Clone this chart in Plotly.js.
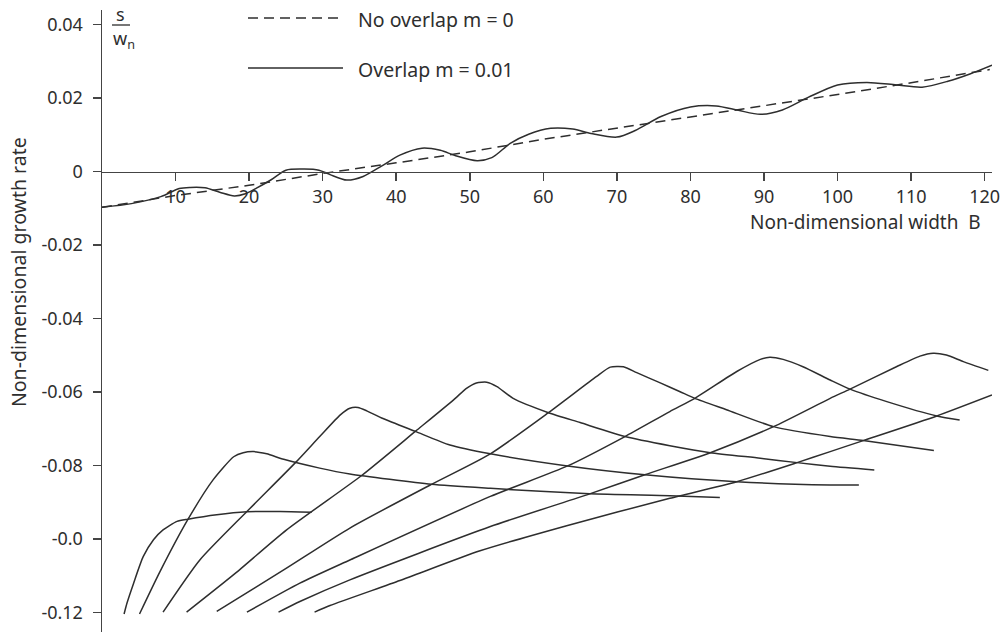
<!DOCTYPE html>
<html>
<head>
<meta charset="utf-8">
<script src="https://cdn.plot.ly/plotly-3.0.1.min.js"></script>
<style>html,body{margin:0;padding:0;background:#fff;}#chart{width:1003px;height:632px;}</style>
</head>
<body>
<div id="chart"></div>
<script>
// ---- Data ----
const noOverlapB = [0, 10, 20, 30, 40, 50, 60, 70, 80, 90, 100, 110, 120.7];
const noOverlapG = [-0.0097, -0.0065, -0.0037, -0.0005, 0.0024, 0.0054, 0.0088, 0.0118, 0.0150, 0.0180, 0.0210, 0.0242, 0.0278];

const overlapB = [0, 4, 8, 10.5, 12, 14, 16, 18, 19.5, 21, 23, 25, 27.5, 29.5, 31, 33.3, 35.5, 38, 40.5, 43.5, 46, 48, 51, 53, 55.5, 58, 61, 64, 66.5, 70, 72.5, 76, 80, 83.5, 86.5, 89.5, 92.5, 96, 100, 104, 108, 111.5, 115, 118, 121];
const overlapG = [-0.0097, -0.0087, -0.0068, -0.0046, -0.0043, -0.0044, -0.0056, -0.0066, -0.0060, -0.0045, -0.0022, 0.0004, 0.0007, 0.0004, -0.0008, -0.0023, -0.0013, 0.0015, 0.0045, 0.0064, 0.0058, 0.0044, 0.0030, 0.0038, 0.0077, 0.0102, 0.0118, 0.0116, 0.0104, 0.0094, 0.0112, 0.0150, 0.0176, 0.0179, 0.0167, 0.0156, 0.0168, 0.0202, 0.0236, 0.0243, 0.0236, 0.0230, 0.0246, 0.0266, 0.0290];

const mode1B = [3.0, 3.4, 4.3, 5.6, 7.0, 8.3, 10.2, 11.7, 15.6, 19.7, 24.2, 28.5];
const mode1G = [-0.1204, -0.1174, -0.1120, -0.1048, -0.1002, -0.0975, -0.0952, -0.0946, -0.0934, -0.0926, -0.0925, -0.0927];

const mode2B = [5.1, 7.9, 11.7, 15.1, 17.9, 19.2, 20.6, 22.4, 24.7, 29.6, 33.7, 44.8, 52.8, 66.3, 77.2, 84.0];
const mode2G = [-0.1204, -0.1088, -0.0946, -0.0839, -0.0776, -0.0765, -0.0762, -0.0768, -0.0783, -0.0807, -0.0823, -0.0851, -0.0862, -0.0877, -0.0882, -0.0887];

const mode3B = [8.3, 13.3, 19.7, 26.3, 29.6, 32.4, 33.7, 34.8, 36.0, 38.2, 42.6, 47.3, 52.8, 63.3, 73.8, 86.3, 99.0, 102.9];
const mode3G = [-0.1199, -0.1057, -0.0925, -0.0792, -0.0721, -0.0662, -0.0644, -0.0642, -0.0651, -0.0672, -0.0707, -0.0744, -0.0768, -0.0801, -0.0825, -0.0844, -0.0853, -0.0853];

const mode4B = [11.5, 17.9, 25.1, 35.3, 42.6, 47.8, 49.6, 50.9, 52.3, 53.7, 55.9, 60.7, 65.0, 71.1, 77.2, 82.7, 89.5, 94.5, 99.0, 105.0];
const mode4G = [-0.1199, -0.1097, -0.0975, -0.0827, -0.0707, -0.0621, -0.0589, -0.0575, -0.0573, -0.0585, -0.0617, -0.0656, -0.0683, -0.0721, -0.0746, -0.0765, -0.0780, -0.0792, -0.0802, -0.0812];

const mode5B = [15.6, 24.7, 33.7, 44.8, 52.8, 60.7, 67.2, 69.1, 70.9, 72.7, 75.9, 78.6, 80.6, 84.9, 91.3, 99.0, 103.5, 113.1];
const mode5G = [-0.1197, -0.1084, -0.0970, -0.0851, -0.0768, -0.0656, -0.0558, -0.0532, -0.0531, -0.0547, -0.0575, -0.0599, -0.0617, -0.0648, -0.0694, -0.0721, -0.0732, -0.0759];

const mode6B = [19.7, 26.9, 33.7, 52.8, 63.3, 71.1, 77.2, 80.6, 86.3, 89.5, 90.8, 92.6, 95.3, 99.0, 101.7, 106.7, 113.5, 116.6];
const mode6G = [-0.1199, -0.1120, -0.1057, -0.0884, -0.0801, -0.0721, -0.0653, -0.0617, -0.0544, -0.0511, -0.0505, -0.0511, -0.0531, -0.0567, -0.0592, -0.0626, -0.0665, -0.0676];

const mode7B = [24.0, 26.9, 33.7, 52.8, 66.3, 73.8, 82.7, 91.3, 99.0, 101.7, 108.0, 111.2, 113.0, 114.8, 117.1, 120.5];
const mode7G = [-0.1199, -0.1170, -0.1111, -0.0966, -0.0877, -0.0825, -0.0765, -0.0694, -0.0617, -0.0592, -0.0531, -0.0502, -0.0494, -0.0499, -0.0517, -0.0541];

const mode8B = [28.9, 31.0, 40.5, 51.4, 63.3, 77.2, 86.3, 94.5, 99.0, 103.5, 113.5, 121.0];
const mode8G = [-0.1199, -0.1181, -0.1113, -0.1032, -0.0963, -0.0889, -0.0844, -0.0792, -0.0762, -0.0732, -0.0665, -0.0608];

const xTicks = [10, 20, 30, 40, 50, 60, 70, 80, 90, 100, 110, 120];
const yTickVals = [0.04, 0.02, 0, -0.02, -0.04, -0.06, -0.08, -0.10, -0.12];
const yTickText = ['0.04', '0.02', '0', '-0.02', '-0.04', '-0.06', '-0.08', '-0.0', '-0.12'];

// ---- Styling ----
const W = 1003, H = 632;
const M = {l: 102, r: 11, t: 10, b: 0};
const xRange = [0, 121];
const yRange = [-0.1253, 0.0440];
const ink = '#2e2e2e';
const FONT = 'Noto Sans, Open Sans, sans-serif';
const TICK = 18, TXT = 19.5;
const px = x => (x - M.l) / (W - M.l - M.r);
const py = y => (H - M.b - y) / (H - M.t - M.b);

const solid = {color: ink, width: 1.5, shape: 'spline', smoothing: 0.6};
const lowerModes = [
  [mode1B, mode1G], [mode2B, mode2G], [mode3B, mode3G], [mode4B, mode4G],
  [mode5B, mode5G], [mode6B, mode6G], [mode7B, mode7G], [mode8B, mode8G]
];

const traces = [
  {x: noOverlapB, y: noOverlapG, mode: 'lines', name: 'No overlap m = 0',
   line: {color: ink, width: 1.5, dash: '10px,6px'}, showlegend: false, hoverinfo: 'skip'},
  {x: overlapB, y: overlapG, mode: 'lines', name: 'Overlap m = 0.01',
   line: {color: ink, width: 1.5, shape: 'spline', smoothing: 0.8}, showlegend: false, hoverinfo: 'skip'}
];
lowerModes.forEach((m, i) => traces.push({
  x: m[0], y: m[1], mode: 'lines', name: 'Overlap m = 0.01 (mode ' + (i + 1) + ')',
  line: solid, showlegend: false, hoverinfo: 'skip'
}));

const zeroPos = (0 - yRange[0]) / (yRange[1] - yRange[0]);

const layout = {
  width: W, height: H,
  margin: M,
  paper_bgcolor: '#fff', plot_bgcolor: '#fff',
  font: {family: FONT, size: TICK, color: ink},
  showlegend: false,
  xaxis: {
    range: xRange, anchor: 'free', position: zeroPos,
    showline: true, linecolor: '#444', linewidth: 1.5,
    ticks: 'outside', ticklen: 8, tickwidth: 1.5, tickcolor: '#444',
    tickvals: xTicks, ticktext: xTicks.map(String),
    showgrid: false, zeroline: false,
    tickfont: {family: FONT, size: TICK, color: ink}
  },
  yaxis: {
    range: yRange,
    showline: true, linecolor: '#444', linewidth: 1.5,
    ticks: 'outside', ticklen: 8, tickwidth: 1.5, tickcolor: '#444',
    ticklabelstandoff: 6,
    tickvals: yTickVals, ticktext: yTickText,
    showgrid: false, zeroline: false,
    tickfont: {family: FONT, size: TICK, color: ink}
  },
  shapes: [
    {type: 'line', xref: 'paper', yref: 'paper', x0: px(248), x1: px(343), y0: py(18), y1: py(18),
     line: {color: ink, width: 1.5, dash: '10px,6px'}},
    {type: 'line', xref: 'paper', yref: 'paper', x0: px(248), x1: px(343), y0: py(68), y1: py(68),
     line: {color: ink, width: 1.5}},
    {type: 'line', xref: 'paper', yref: 'paper', x0: px(112), x1: px(130), y0: py(25), y1: py(25),
     line: {color: ink, width: 1.3}}
  ],
  annotations: [
    {text: 'No overlap m = 0', xref: 'paper', yref: 'paper', x: px(356), y: py(20),
     xanchor: 'left', yanchor: 'middle', showarrow: false, font: {family: FONT, size: TXT, color: ink}},
    {text: 'Overlap m = 0.01', xref: 'paper', yref: 'paper', x: px(356), y: py(69),
     xanchor: 'left', yanchor: 'middle', showarrow: false, font: {family: FONT, size: TXT, color: ink}},
    {text: 'Non-dimensional width  B', xref: 'paper', yref: 'paper', x: px(983), y: py(222),
     xanchor: 'right', yanchor: 'middle', showarrow: false, font: {family: FONT, size: 19, color: ink}},
    {text: 'Non-dimensional growth rate', xref: 'paper', yref: 'paper', x: px(18), y: py(272),
     xanchor: 'center', yanchor: 'middle', textangle: -90, showarrow: false,
     font: {family: FONT, size: TXT, color: ink}},
    {text: 's', xref: 'paper', yref: 'paper', x: px(120), y: py(14),
     xanchor: 'center', yanchor: 'middle', showarrow: false, font: {family: FONT, size: 18, color: ink}},
    {text: 'w<sub>n</sub>', xref: 'paper', yref: 'paper', x: px(111), y: py(40),
     xanchor: 'left', yanchor: 'middle', showarrow: false, font: {family: FONT, size: 18, color: ink}}
  ]
};

Plotly.newPlot('chart', traces, layout, {staticPlot: true, displayModeBar: false});
</script>
</body>
</html>
